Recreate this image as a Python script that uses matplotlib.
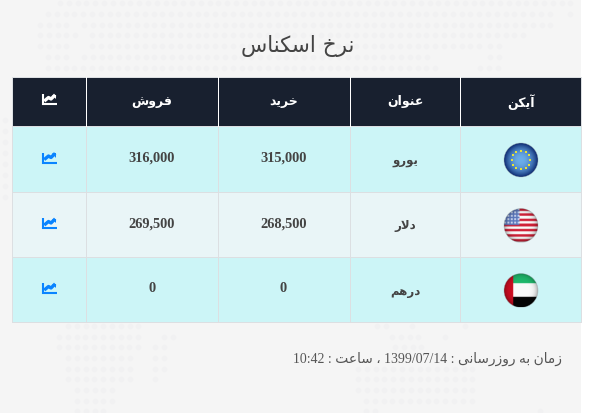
import re
import numpy as np
import matplotlib
matplotlib.use('Agg')
import matplotlib.pyplot as plt
from matplotlib.patches import Rectangle, Circle

# data
title = 'نرخ اسکناس'
headers = ['آیکن', 'عنوان', 'خرید', 'فروش']
currencies = ['یورو', 'دلار', 'درهم']
buy = [315000, 268500, 0]
sell = [316000, 269500, 0]
footer = 'زمان به روزرسانی : 1399/07/14 ، ساعت : 10:42'

# column edges right to left on the page, row edges top to bottom
col_edges = [12, 86, 218, 350, 460, 581]
row_edges = [77, 126, 192, 257, 322]
row_colors = ['#ccf5f7', '#e9f5f7', '#ccf5f7']

# background dot map: y, then (x from, x to)
dot_rows = [
    (3, [(60, 575)]),
    (14, [(48, 553), (570, 575)]),
    (25, [(40, 70), (84, 553)]),
    (35, [(40, 78), (92, 530)]),
    (46, [(40, 68), (92, 483), (490, 503)]),
    (57, [(48, 70), (84, 433), (490, 503)]),
    (68, [(48, 440), (480, 503)]),
    (326, [(68, 139), (377, 387), (412, 415), (465, 468)]),
    (337, [(59, 139), (164, 174), (392, 425), (445, 450)]),
    (347, [(59, 139), (155, 165), (395, 425)]),
    (358, [(68, 130), (155, 165)]),
    (369, [(68, 130), (155, 165), (358, 480)]),
    (379, [(68, 130), (155, 158), (358, 476)]),
    (390, [(77, 112), (358, 476)]),
    (401, [(77, 112), (366, 476)]),
    (411, [(77, 103), (366, 380), (540, 545)]),
]
left_dots = [(5, 120), (5, 131), (5, 142), (5, 153), (5, 164), (5, 175), (5, 186), (5, 197)]

FORMS = {
    'ا': 'ﺍﺎ', 'آ': 'ﺁﺂ', 'د': 'ﺩﺪ', 'ذ': 'ﺫﺬ', 'ر': 'ﺭﺮ', 'ز': 'ﺯﺰ', 'و': 'ﻭﻮ',
    'ب': 'ﺏﺐﺑﺒ', 'ت': 'ﺕﺖﺗﺘ', 'خ': 'ﺥﺦﺧﺨ', 'س': 'ﺱﺲﺳﺴ', 'ش': 'ﺵﺶﺷﺸ',
    'ع': 'ﻉﻊﻋﻌ', 'ف': 'ﻑﻒﻓﻔ', 'ک': 'ﮎﮏﮐﮑ', 'ل': 'ﻝﻞﻟﻠ', 'م': 'ﻡﻢﻣﻤ',
    'ن': 'ﻥﻦﻧﻨ', 'ه': 'ﻩﻪﻫﻬ', 'ی': 'ﯼﯽﯾﯿ',
}


def shape_word(word):
    word = word.replace('لا', '\ufefb')
    out = []
    for i, ch in enumerate(word):
        prev = word[i - 1] if i > 0 else ''
        nxt = word[i + 1] if i < len(word) - 1 else ''
        if ch == '\ufefb':
            joined = prev in FORMS and len(FORMS[prev]) == 4
            out.append('\ufefc' if joined else ch)
            continue
        if ch not in FORMS:
            out.append(ch)
            continue
        forms = FORMS[ch]
        joined_before = prev in FORMS and len(FORMS[prev]) == 4
        joined_after = len(forms) == 4 and (nxt in FORMS or nxt == '\ufefb')
        if joined_before and joined_after:
            out.append(forms[3])
        elif joined_after:
            out.append(forms[2])
        elif joined_before:
            out.append(forms[1])
        else:
            out.append(forms[0])
    return ''.join(out)


def rtl(text):
    # matplotlib has no shaping or bidi, so lay the runs out by hand
    runs = re.findall(r'[0-9:/]*[0-9][0-9:/]*|[^0-9]+', text)
    visual = []
    for run in reversed(runs):
        if run[0].isdigit():
            visual.append(run)
        else:
            visual.append(shape_word(run)[::-1])
    return ''.join(visual)


def chart_icon(ax, x, y, color):
    # small line chart glyph, centred on x, y
    ax.plot([x - 6.3, x - 6.3, x + 7.5], [y - 5.5, y + 4.5, y + 4.5], color=color, lw=1.5,
            solid_capstyle='butt', solid_joinstyle='miter', zorder=6)
    ax.plot([x - 3.5, x - 0.5, x + 2, x + 5], [y + 0.5, y - 2, y - 0.5, y - 3.5], color=color, lw=2.4, zorder=6)
    ax.fill([x + 2.5, x + 7, x + 7], [y - 5, y - 5, y - 0.5], color=color, lw=0, zorder=6)


def flag(ax, cx, cy, r, kind):
    clip = Circle((cx, cy), r, transform=ax.transData)
    n = 70
    yy, xx = np.mgrid[-1:1:n * 1j, -1:1:n * 1j]
    dist = np.sqrt(xx ** 2 + yy ** 2)
    img = np.zeros((n, n, 3))
    if kind == 'eu':
        inner = np.array([0.42, 0.68, 0.92])
        outer = np.array([0.05, 0.17, 0.45])
        t = np.clip(dist, 0, 1)[..., None] ** 2.2
        img = inner * (1 - t) + outer * t
    elif kind == 'us':
        stripe = np.floor((yy + 1) / 2 * 13) % 2 == 0
        img[...] = [0.98, 0.98, 0.98]
        img[stripe] = [0.82, 0.13, 0.22]
        canton = (xx < -0.1) & (yy < 0.0)
        img[canton] = [0.36, 0.47, 0.74]
        speckle = canton & (np.floor((xx + 1) * 10) % 2 == 0) & (np.floor((yy + 1) * 10) % 2 == 0)
        img[speckle] = [0.80, 0.85, 0.95]
    else:
        img[...] = [0.98, 0.98, 0.98]
        img[yy < -0.4] = [0.12, 0.72, 0.42]
        img[yy > 0.4] = [0.02, 0.02, 0.02]
        img[xx < -0.46] = [0.80, 0.05, 0.13]
    if kind != 'eu':
        shade = 1 - 0.3 * np.clip(dist, 0, 1)[..., None] ** 6
        img = img * shade
    im = ax.imshow(img, extent=(cx - r, cx + r, cy + r, cy - r), interpolation='bilinear', zorder=3)
    im.set_clip_path(clip)
    if kind == 'eu':
        a = np.radians(np.arange(0, 360, 30))
        ax.scatter(cx + 9.3 * np.cos(a), cy + 9.3 * np.sin(a), s=3, marker='s', color='#e6e23a', lw=0, zorder=4)
    ax.add_patch(Circle((cx, cy), r, fill=False, ec='#9aa6aa', lw=0.5, alpha=0.5, zorder=5))


fig = plt.figure(figsize=(6.05, 4.13), dpi=100)
ax = fig.add_axes([0, 0, 1, 1])
ax.axis('off')

ax.add_patch(Rectangle((0, 0), 581, 413, color='#f5f5f5', lw=0, zorder=0))
for y, spans in dot_rows:
    for x0, x1 in spans:
        xs = np.arange(x0, x1 + 1, 8.8)
        ax.scatter(xs, [y] * len(xs), s=16, color='#f1f1f2', lw=0, zorder=1)
ax.scatter(*zip(*left_dots), s=16, color='#f1f1f2', lw=0, zorder=1)

# table: columns run right to left
ax.add_patch(Rectangle((col_edges[0], row_edges[0]), col_edges[-1] - col_edges[0],
                       row_edges[1] - row_edges[0], color='#18202f', lw=0, zorder=2))
for i, c in enumerate(row_colors):
    ax.add_patch(Rectangle((col_edges[0], row_edges[i + 1]), col_edges[-1] - col_edges[0],
                           row_edges[i + 2] - row_edges[i + 1], color=c, lw=0, zorder=2))
for y in row_edges:
    ax.plot([col_edges[0], col_edges[-1]], [y, y], color='#dcdfe2', lw=0.72, zorder=2.5)
for x in col_edges:
    ax.plot([x, x], [row_edges[0], row_edges[-1]], color='#dcdfe2', lw=0.72, zorder=2.5)
for x in col_edges[1:-1]:
    ax.plot([x, x], [row_edges[0], row_edges[1]], color='#ffffff', lw=0.72, zorder=2.6)

centers = [(col_edges[i] + col_edges[i + 1]) / 2 for i in range(5)]
icon_x, sell_x, buy_x, name_x, flag_x = centers
head_y = 102

for x, label in zip([flag_x, name_x, buy_x, sell_x], headers):
    ax.text(x, head_y, rtl(label), color='white', fontsize=9, fontweight='bold',
            family=['DejaVu Sans'], ha='center', va='center', zorder=6)
chart_icon(ax, icon_x, 99.5, '#ffffff')

flags = ['eu', 'us', 'ae']
for i in range(3):
    cy = (row_edges[i + 1] + row_edges[i + 2]) / 2
    flag(ax, 521, cy + 1, 17, flags[i])
    ax.text(name_x, cy + 1.5, rtl(currencies[i]), color='#444444', fontsize=8.5, fontweight='bold',
            family=['DejaVu Sans'], ha='center', va='center', zorder=6)
    ax.text(buy_x - 0.5, cy - 0.5, f'{buy[i]:,}', color='#444444', fontsize=10.4, fontweight='bold',
            family=['Liberation Serif'], ha='center', va='center', zorder=6)
    ax.text(sell_x, cy - 0.5, f'{sell[i]:,}', color='#444444', fontsize=10.4, fontweight='bold',
            family=['Liberation Serif'], ha='center', va='center', zorder=6)
    chart_icon(ax, icon_x, cy - 1, '#0a84ff')

ax.text(297.5, 46, rtl(title), color='#444444', fontsize=15.5, family=['DejaVu Sans'],
        ha='center', va='center', zorder=6)
ax.text(562, 359, rtl(footer), color='#555555', fontsize=9.9, family=['Liberation Serif', 'DejaVu Sans'],
        ha='right', va='center', zorder=6)

ax.set_xlim(0, 605)
ax.set_ylim(413, 0)
ax.set_aspect('auto')
fig.savefig('out.png', dpi=100, facecolor='white')
